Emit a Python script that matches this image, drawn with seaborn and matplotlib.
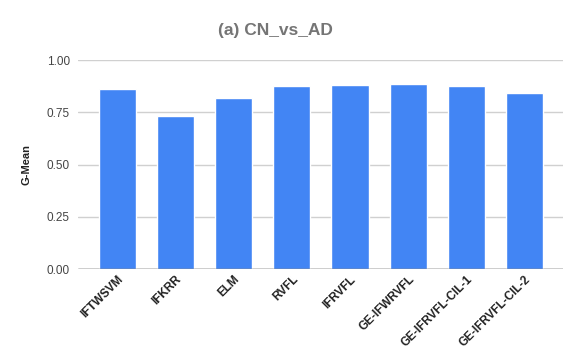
import matplotlib
matplotlib.use("Agg")
import matplotlib.pyplot as plt
import seaborn as sns
import pandas as pd

# Data
models = ["IFTWSVM", "IFKRR", "ELM", "RVFL", "IFRVFL",
          "GE-IFWRVFL", "GE-IFRVFL-CIL-1", "GE-IFRVFL-CIL-2"]
gmean = [0.860, 0.734, 0.817, 0.874, 0.879, 0.887, 0.874, 0.840]
yticks = [0.0, 0.25, 0.50, 0.75, 1.00]

sns.set_theme(style="white")
plt.rcParams['font.family'] = ['Liberation Sans', 'DejaVu Sans']

df = pd.DataFrame({"Model": models, "G-Mean": gmean})

fig = plt.figure(figsize=(5.81, 3.6), dpi=100)
ax = fig.add_axes([0.1348, 0.252, 0.8337, 0.5813])

sns.barplot(data=df, x="Model", y="G-Mean", color="#4285F4",
            width=0.64, saturation=1, ax=ax, zorder=3)

ax.set_xlim(-0.675, 7.66)
ax.set_ylim(0, 1.0)
ax.set_yticks(yticks)
ax.set_yticklabels([f"{t:.2f}" for t in yticks], fontsize=8.5, color="#444444")
ax.yaxis.grid(True, color="#d0d0d0", linewidth=1, zorder=0)
ax.axhline(0, color="#333333", linewidth=1, zorder=4)
for s in ax.spines.values():
    s.set_visible(False)
ax.tick_params(axis="both", length=0, pad=6)

ax.set_xticks(range(len(models)))
ax.set_xticklabels(models, rotation=45, ha="right", rotation_mode="anchor",
                   fontsize=8.5, fontweight="bold", color="#222222")
ax.tick_params(axis="x", pad=3)
ax.set_xlabel("")
ax.set_ylabel("G-Mean", fontsize=8, fontweight="bold", color="#222222", labelpad=11)

fig.text(275 / 581, 1 - 31 / 360, "(a) CN_vs_AD", ha="center", va="center",
         fontsize=12.5, fontweight="bold", color="#757575")

fig.savefig("out.png", dpi=100)
